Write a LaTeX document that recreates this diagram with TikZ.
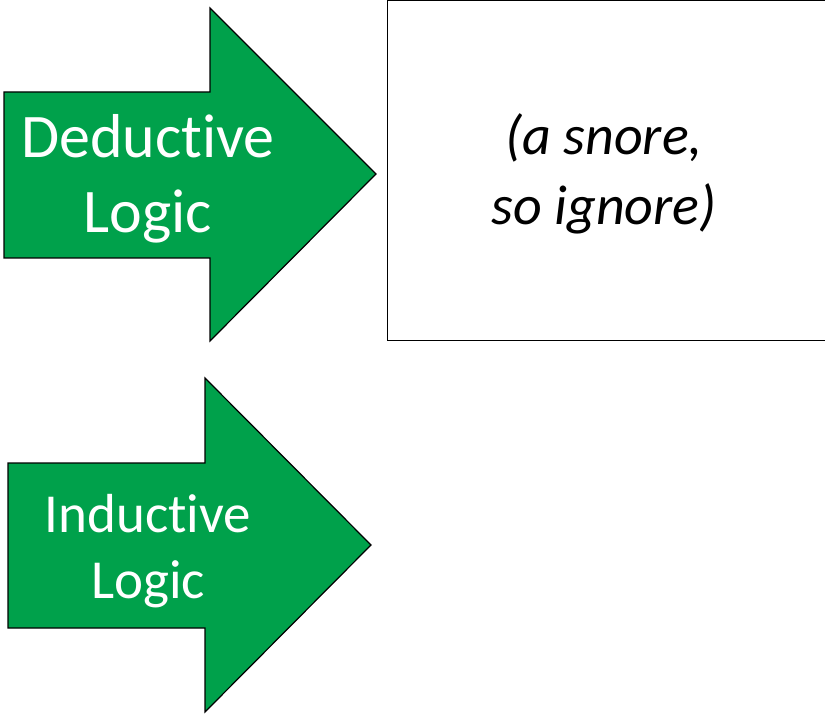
\documentclass[tikz,border=0pt]{standalone}
\usepackage{fontspec}
\setmainfont[Ligatures=NoCommon]{Carlito}
\usetikzlibrary{calc}
\definecolor{logicgreen}{RGB}{0,161,75}

\begin{document}
\begin{tikzpicture}[x=1pt,y=-1pt,line width=1.2pt,
  blockarrow/.style={draw=black,fill=logicgreen,line join=miter},
  arrowtext/.style={text=white,align=center,inner sep=0pt,anchor=base}]
  \useasboundingbox (0,0) rectangle (825,714);

  % deductive arrow
  \coordinate (DT) at (376,174);
  \draw [blockarrow] (4,92) -- (210,92) -- (210,8) -- (DT)
    -- (210,341) -- (210,258) -- (4,258) -- cycle;
  \node [arrowtext,font=\fontsize{62}{75}\selectfont] (ded) at (148,233)
    {Deductive\\Logic};

  % inductive arrow
  \coordinate (IT) at (371,545);
  \draw [blockarrow] (8,463) -- (205,463) -- (205,378) -- (IT)
    -- (205,712) -- (205,628) -- (8,628) -- cycle;
  \node [arrowtext,font=\fontsize{55}{66}\selectfont] (ind) at (148,598)
    {Inductive\\Logic};

  % box on the right
  \draw [line width=1pt] (387,0.5) rectangle (840,340);
  \node [align=center,inner sep=0pt,anchor=base,
    font=\itshape\fontsize{56}{70}\selectfont] (snore) at (604,225)
    {(a snore,\\so ignore)};
\end{tikzpicture}
\end{document}
